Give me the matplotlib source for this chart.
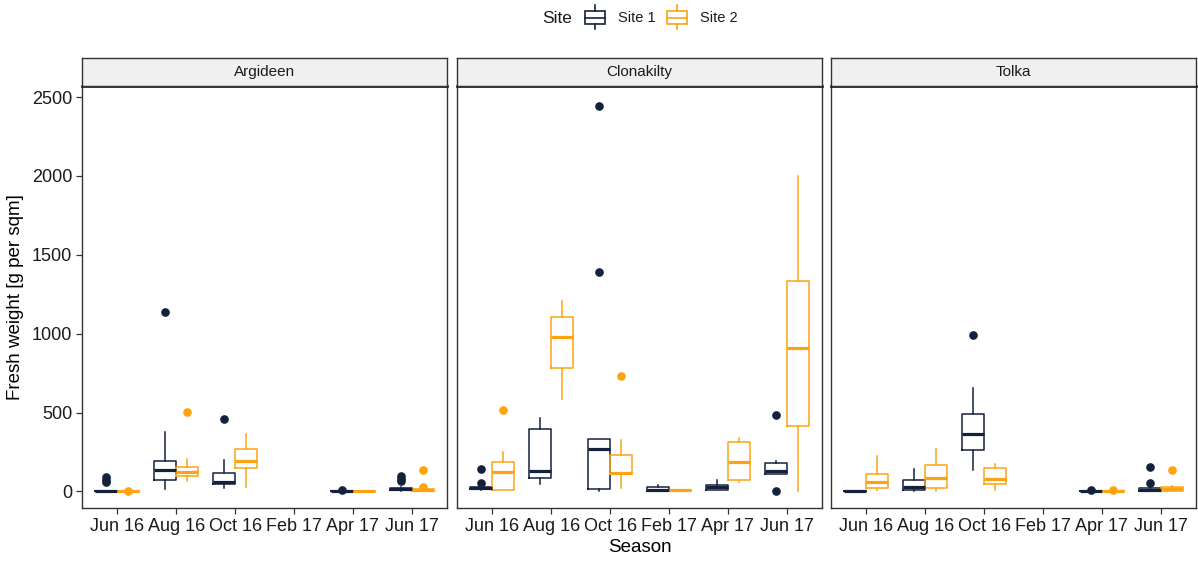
import numpy as np
import matplotlib.pyplot as plt
from matplotlib.patches import Rectangle

plt.rcParams['font.family'] = ['Liberation Sans', 'DejaVu Sans']

seasons = ["Jun 16", "Aug 16", "Oct 16", "Feb 17", "Apr 17", "Jun 17"]
sites = ["Argideen", "Clonakilty", "Tolka"]

# box summaries per season: [lower whisker, q1, median, q3, upper whisker]
argideen_site1 = [[0, 0, 0, 2, 2], [17, 70, 135, 196, 375], [19, 44, 59, 114, 200],
                  None, [0, 0, 1, 3, 3], [5, 6, 15, 23, 28]]
argideen_site1_out = [[60, 75, 90], [1135], [456], [], [8], [65, 80, 95]]
argideen_site2 = [[0, 0, 1, 3, 4], [65, 97, 124, 154, 207], [30, 146, 192, 272, 365],
                  None, [0, 0, 1, 2, 3], [0, 2, 8, 15, 20]]
argideen_site2_out = [[5], [504], [], [], [], [27, 139]]

clonakilty_site1 = [[10, 13, 20, 30, 35], [44, 84, 129, 397, 464], [4, 15, 266, 333, 333],
                    [0, 5, 12, 30, 42], [8, 8, 25, 40, 70], [108, 108, 129, 181, 194]]
clonakilty_site1_out = [[53, 144], [], [1394, 2445], [], [], [0, 483]]
clonakilty_site2 = [[6, 11, 124, 186, 251], [589, 783, 981, 1106, 1209], [21, 108, 118, 228, 325],
                    [5, 5, 8, 10, 10], [61, 72, 188, 312, 337], [4, 413, 907, 1331, 2000]]
clonakilty_site2_out = [[517], [], [732], [], [], []]

tolka_site1 = [[0, 0, 0, 1, 1], [4, 6, 27, 74, 143], [135, 262, 367, 491, 656],
               None, [0, 0, 1, 2, 3], [0, 2, 12, 23, 30]]
tolka_site1_out = [[], [], [990], [], [8], [53, 154]]
tolka_site2 = [[8, 21, 59, 110, 222], [4, 19, 87, 169, 272], [8, 44, 76, 150, 173],
               None, [0, 0, 1, 2, 4], [2, 5, 15, 27, 34]]
tolka_site2_out = [[], [], [], [], [6], [137]]

panels = [
    (argideen_site1, argideen_site1_out, argideen_site2, argideen_site2_out),
    (clonakilty_site1, clonakilty_site1_out, clonakilty_site2, clonakilty_site2_out),
    (tolka_site1, tolka_site1_out, tolka_site2, tolka_site2_out),
]

c1 = "#14213D"
c2 = "#FCA311"

W, H = 1198, 561
fig = plt.figure(figsize=(W / 100, H / 100), dpi=100)


def rect(l, t, w, h):
    return [l / W, 1 - (t + h) / H, w / W, h / H]


def to_stats(rows, outs):
    st, pos = [], []
    for i, (r, o) in enumerate(zip(rows, outs)):
        if r is None:
            continue
        lo, q1, med, q3, hi = r
        st.append(dict(whislo=lo, q1=q1, med=med, q3=q3, whishi=hi, fliers=o))
        pos.append(i + 1)
    return st, np.array(pos, float)


def draw_boxes(ax, rows, outs, shift, c):
    st, pos = to_stats(rows, outs)
    ax.bxp(st, positions=pos + shift, widths=0.375, showcaps=False,
           manage_ticks=False,
           boxprops=dict(color=c, lw=1.1),
           whiskerprops=dict(color=c, lw=1.1),
           medianprops=dict(color=c, lw=2.3),
           flierprops=dict(marker="o", mfc=c, mec=c, ms=5.2))


lefts = [82, 457, 831]
pw, top, bottom = 365, 86, 508
for k, (s1, o1, s2, o2) in enumerate(panels):
    ax = fig.add_axes(rect(lefts[k], top, pw, bottom - top))
    draw_boxes(ax, s1, o1, -0.1875, c1)
    draw_boxes(ax, s2, o2, 0.1875, c2)
    ax.set_xlim(0.4, 6.6)
    ax.set_ylim(-105, 2570)
    ax.set_xticks(np.arange(1, 7))
    ax.set_xticklabels(seasons)
    ax.set_yticks([0, 500, 1000, 1500, 2000, 2500])
    ax.tick_params(colors="#333333", labelcolor="#1a1a1a", labelsize=13,
                   length=4, width=0.9, pad=3)
    if k > 0:
        ax.tick_params(axis="y", left=False, labelleft=False)
    else:
        ax.set_ylabel("Fresh weight [g per sqm]", fontsize=13.5, labelpad=6)
    if k == 1:
        ax.set_xlabel("Season", fontsize=13.5, labelpad=3)
    for sp in ax.spines.values():
        sp.set_color("#333333")
        sp.set_linewidth(1.0)
    ax.spines["top"].set_color("black")
    ax.spines["top"].set_linewidth(1.8)

    # facet strip
    sx = fig.add_axes(rect(lefts[k], 58, pw, top - 58))
    sx.set_facecolor("#F0F0F0")
    sx.set_xticks([])
    sx.set_yticks([])
    for sp in sx.spines.values():
        sp.set_color("#333333")
        sp.set_linewidth(1.0)
    sx.text(0.5, 0.5, sites[k], ha="center", va="center", fontsize=11,
            color="#1a1a1a", transform=sx.transAxes)

# legend drawn in pixel coordinates on an overlay
lg = fig.add_axes([0, 0, 1, 1], zorder=-1)
lg.set_xlim(0, W)
lg.set_ylim(H, 0)
lg.axis("off")
lg.text(542, 18, "Site", fontsize=12.5, ha="left", va="center", color="#1a1a1a")
for x0, c, lab in [(585, c1, "Site 1"), (667, c2, "Site 2")]:
    lg.add_patch(Rectangle((x0, 11), 20, 13, fill=False, ec=c, lw=1.2))
    lg.plot([x0, x0 + 20], [17.5, 17.5], color=c, lw=1.2)
    lg.plot([x0 + 10, x0 + 10], [5, 11], color=c, lw=1.2)
    lg.plot([x0 + 10, x0 + 10], [24, 29], color=c, lw=1.2)
    lg.text(x0 + 33, 18, lab, fontsize=10.5, ha="left", va="center", color="#1a1a1a")

fig.savefig("out.png", dpi=100)
